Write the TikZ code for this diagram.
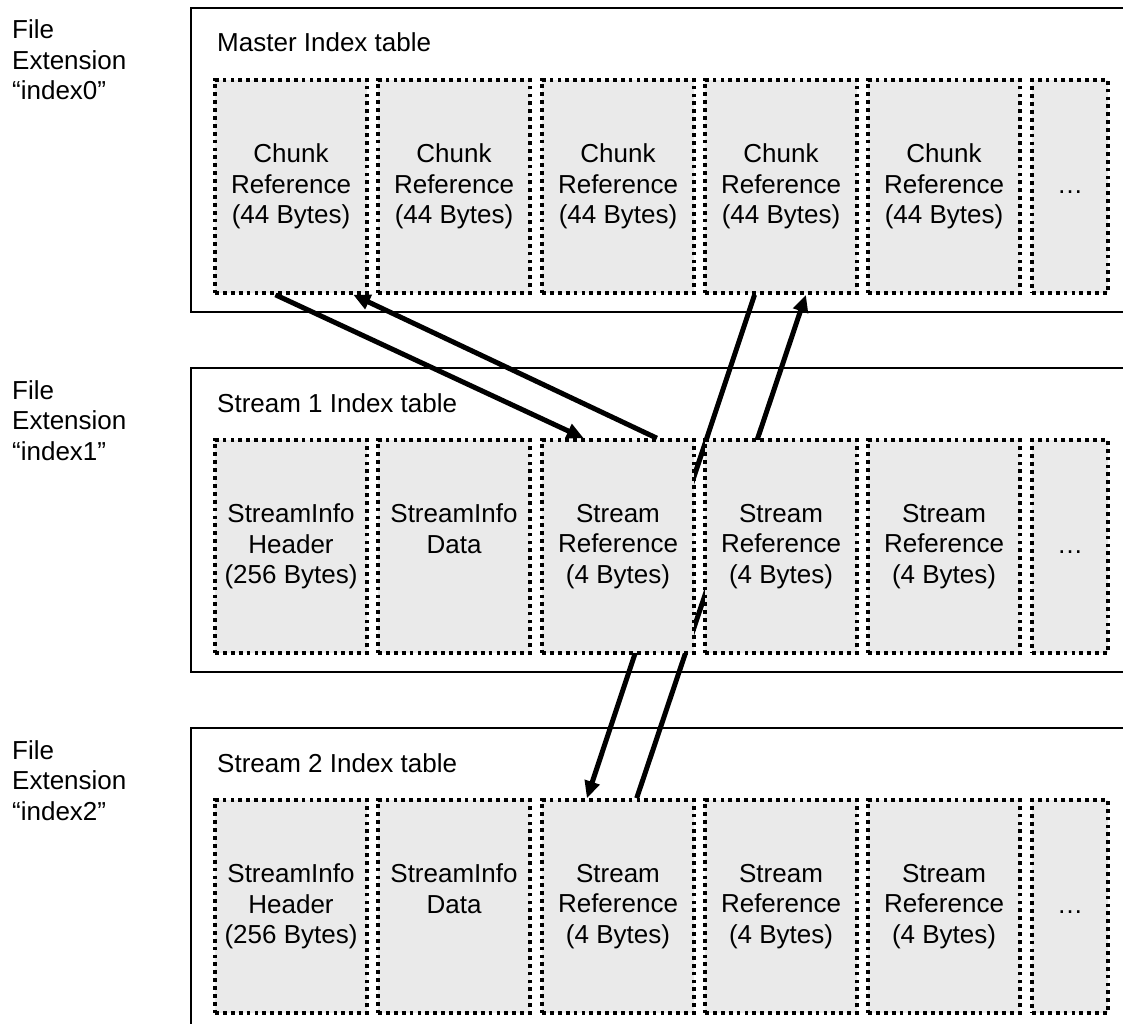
\documentclass[tikz,border=0pt]{standalone}
\usepackage{fontspec}
\setmainfont{Liberation Sans}
\usetikzlibrary{arrows.meta,calc}
\pgfdeclarelayer{bg}
\pgfdeclarelayer{arr}
\pgfsetlayers{bg,arr,main}
\definecolor{cellfill}{RGB}{234,234,234}
\begin{document}
\begin{tikzpicture}[x=1pt,y=-1pt,
  font=\fontsize{26}{30.5}\selectfont,
  cell/.style={draw, line width=3.6pt, dash pattern=on 3.8pt off 4.1pt,
    fill=cellfill, minimum width=152pt, minimum height=213pt,
    inner sep=0pt, align=center},
  endcell/.style={cell, minimum width=76pt},
  outerline/.style={line width=1.8pt},
  conn/.style={line width=5pt, -{Triangle[length=17pt,width=15pt]}},
  title/.style={anchor=base west, inner sep=0pt},
  sidelabel/.style={anchor=base west, align=left, inner sep=0pt}]
\useasboundingbox (0,0) rectangle (1123,1024);

% outer table boxes
\begin{pgfonlayer}{bg}
\draw[outerline] (1123,8) -- (191,8) -- (191,312) -- (1123,312);
\draw[outerline] (1123,368) -- (191,368) -- (191,672) -- (1123,672);
\draw[outerline] (1123,728) -- (191,728) -- (191,1024);
\end{pgfonlayer}

% side labels (base anchor = baseline of the last line)
\node[sidelabel] (f0) at (12,100) {File\\Extension\\“index0”};
\node[sidelabel] (f1) at (12,460) {File\\Extension\\“index1”};
\node[sidelabel] (f2) at (12,820) {File\\Extension\\“index2”};

% titles
\node[title] (t0) at (217,52) {Master Index table};
\node[title] (t1) at (217,412) {Stream 1 Index table};
\node[title] (t2) at (217,772) {Stream 2 Index table};

% master cells
\node[cell] (m1) at (291,186.5) {Chunk\\Reference\\(44 Bytes)};
\node[cell] (m2) at (454,186.5) {Chunk\\Reference\\(44 Bytes)};
\node[cell] (m3) at (618,186.5) {Chunk\\Reference\\(44 Bytes)};
\node[cell] (m4) at (781,186.5) {Chunk\\Reference\\(44 Bytes)};
\node[cell] (m5) at (944,186.5) {Chunk\\Reference\\(44 Bytes)};
\node[endcell] (m6) at (1070,186.5) {\vphantom{(}…};

% stream 1 cells
\node[cell] (a1) at (291,546.5) {StreamInfo\\Header\\(256 Bytes)};
\node[cell] (a2) at (454,546.5) {StreamInfo\\Data\\\phantom{(4 Bytes)}};
\node[cell] (a3) at (618,546.5) {Stream\\Reference\\(4 Bytes)};
\node[cell] (a4) at (781,546.5) {Stream\\Reference\\(4 Bytes)};
\node[cell] (a5) at (944,546.5) {Stream\\Reference\\(4 Bytes)};
\node[endcell] (a6) at (1070,546.5) {\vphantom{(}…};

% stream 2 cells
\node[cell] (b1) at (291,906.5) {StreamInfo\\Header\\(256 Bytes)};
\node[cell] (b2) at (454,906.5) {StreamInfo\\Data\\\phantom{(4 Bytes)}};
\node[cell] (b3) at (618,906.5) {Stream\\Reference\\(4 Bytes)};
\node[cell] (b4) at (781,906.5) {Stream\\Reference\\(4 Bytes)};
\node[cell] (b5) at (944,906.5) {Stream\\Reference\\(4 Bytes)};
\node[endcell] (b6) at (1070,906.5) {\vphantom{(}…};

% connectors (behind the cells)
\begin{pgfonlayer}{arr}
\draw[conn] ($(m1.south west)!0.40!(m1.south east)$) -- ($(a3.north west)!0.28!(a3.north east)$);
\draw[conn] ($(a3.north west)!0.75!(a3.north east)$) -- ($(m1.south west)!0.90!(m1.south east)$);
\draw[conn] ($(m4.south west)!0.33!(m4.south east)$) -- ($(b3.north west)!0.30!(b3.north east)$);
\draw[conn] ($(b3.north west)!0.62!(b3.north east)$) -- ($(m4.south west)!0.66!(m4.south east)$);
\end{pgfonlayer}
\end{tikzpicture}
\end{document}
